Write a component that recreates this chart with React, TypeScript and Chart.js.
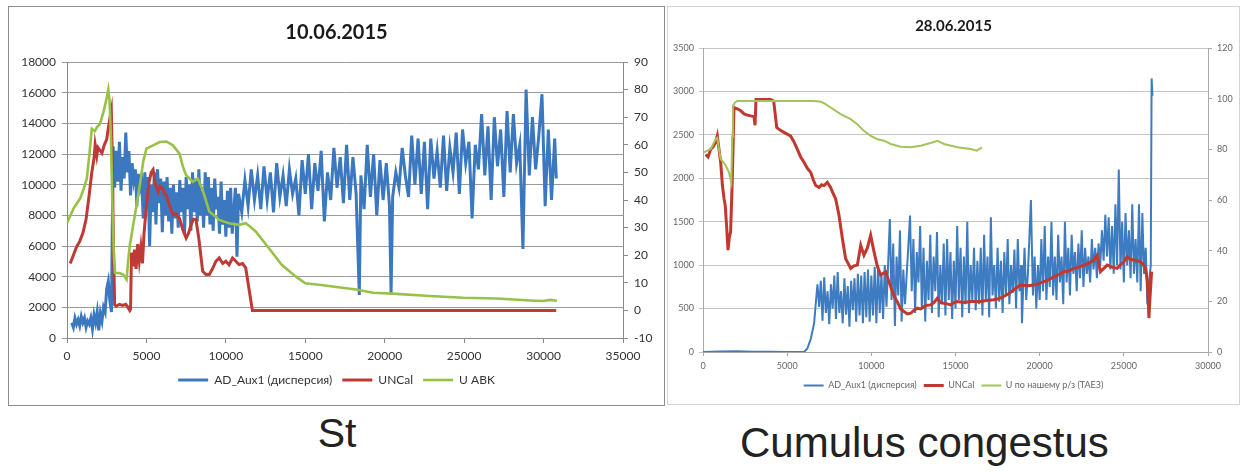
import React, { useEffect, useRef } from "react";
import Chart from "chart.js/auto";

const FONT = "Lato, 'Open Sans', sans-serif";

const chart1Title = "10.06.2015";
const chart2Title = "28.06.2015";
const caption1 = "St";
const caption2 = "Cumulus congestus";
const seriesNames1 = ["AD_Aux1 (дисперсия)", "UNCal", "U ABK"];
const seriesNames2 = ["AD_Aux1 (дисперсия)", "UNCal", "U по нашему р/з (ТАЕЗ)"];

const x1Ticks = [0, 5000, 10000, 15000, 20000, 25000, 30000, 35000];
const yL1Ticks = [0, 2000, 4000, 6000, 8000, 10000, 12000, 14000, 16000, 18000];
const yR1Ticks = [-10, 0, 10, 20, 30, 40, 50, 60, 70, 80, 90];
const x2Ticks = [0, 5000, 10000, 15000, 20000, 25000, 30000];
const yL2Ticks = [0, 500, 1000, 1500, 2000, 2500, 3000, 3500];
const yR2Ticks = [0, 20, 40, 60, 80, 100, 120];

// ---- Chart 1 (10.06.2015) ----
const ad1: [number, number][] = [
  [300,1000],[400,700],[500,1300],[600,900],[700,1200],[800,800],[900,1400],[1000,1000],[1100,1300],[1200,700],
  [1300,1100],[1400,900],[1500,1300],[1600,600],[1700,1500],[1800,1000],[1900,1700],[2000,500],[2100,1600],[2200,1100],
  [2300,2000],[2400,1700],[2500,3200],[2600,3700],[2700,2400],[2800,1700],[2900,12500],[3000,9800],[3100,12200],[3200,10200],
  [3300,12800],[3400,9600],[3500,11800],[3600,10400],[3700,13400],[3800,10800],[3900,12200],[4000,9300],[4100,11400],[4200,10300],
  [4300,11000],[4400,8600],[4500,10700],[4600,9800],[4700,10300],[4800,7800],[4900,10800],[5000,8400],[5100,10500],[5200,6000],
  [5300,10000],[5400,8200],[5500,10800],[5600,7400],[5700,11000],[5800,8800],[5900,10400],[6000,6900],[6100,10200],[6200,8000],
  [6300,10500],[6400,7600],[6500,9800],[6600,6800],[6700,10000],[6800,7800],[6900,9500],[7000,7200],[7100,10300],[7200,8200],
  [7300,9800],[7400,6800],[7500,10500],[7600,8400],[7700,10000],[7800,7000],[7900,10800],[8000,8200],[8100,10400],[8200,7600],
  [8300,11000],[8400,8000],[8500,9600],[8600,7200],[8700,10800],[8800,8000],[8900,10500],[9000,7400],[9100,9800],[9200,7000],
  [9300,10400],[9400,8400],[9500,9200],[9600,6800],[9700,10200],[9800,7400],[9900,9000],[10000,6600],[10100,9600],[10200,7200],
  [10300,9800],[10400,6800],[10600,9800],[10700,5300],[10800,9400],[11000,8200],[11200,10300],[11400,8600],[11600,11000],[11800,9000],
  [12000,10600],[12200,8400],[12400,11200],[12600,9000],[12800,10800],[13000,8200],[13200,11400],[13400,9200],[13600,10600],[13800,8600],
  [14000,11000],[14200,9400],[14400,10400],[14600,8000],[14800,11600],[15000,9400],[15200,12000],[15400,8400],[15600,11400],[15800,9600],
  [16000,12200],[16200,7600],[16400,10800],[16600,9000],[16800,12400],[17000,9800],[17200,11800],[17400,8800],[17600,12600],[17800,9000],
  [18000,11800],[18200,9400],[18400,2800],[18500,10600],[18700,8400],[18900,12600],[19100,9200],[19300,12000],[19500,8000],[19700,11600],
  [19900,9000],[20100,11400],[20300,8600],[20400,2900],[20500,9200],[20700,10800],[20900,9800],[21100,12400],[21300,10600],[21500,9200],
  [21700,13200],[21900,10000],[22100,13000],[22300,9400],[22500,12800],[22700,8400],[22900,13000],[23100,10400],[23300,12200],[23500,9800],
  [23700,13200],[23900,9600],[24100,12400],[24300,10800],[24500,13400],[24700,9400],[24900,13600],[25100,11400],[25300,12800],[25500,7800],
  [25700,12600],[25900,11000],[26100,14600],[26300,10600],[26500,13800],[26700,9000],[26900,14400],[27100,11200],[27300,13600],[27500,9200],
  [27700,14800],[27900,10800],[28100,14600],[28300,11400],[28500,12600],[28700,5800],[28900,16200],[29100,10600],[29300,14400],[29500,11000],
  [29700,13200],[29900,15900],[30100,8600],[30300,13600],[30500,9000],[30700,13000],[30800,10400]
];
const unc1: [number, number][] = [
  [200,17],[400,20],[600,23],[800,25],[1000,28],[1200,33],[1400,42],[1560,50],[1700,55],[1770,60],
  [1875,56],[1950,59],[2080,58],[2200,57],[2350,60],[2500,62],[2600,66],[2710,70],[2790,72.5],[2850,55],
  [2920,25],[3000,2],[3100,1.5],[3300,2.2],[3500,1.8],[3700,2.2],[3850,1],[3950,0],[4000,0.5],[4060,21],
  [4150,16],[4250,22],[4350,15],[4450,24],[4550,18],[4650,23],[4750,17],[4850,28],[5000,38],[5150,46],
  [5300,50],[5420,51],[5550,46],[5730,43],[5850,45],[6040,44],[6150,42],[6250,41.8],[6450,38],[6670,34.6],
  [6850,35],[7080,33.4],[7300,29],[7500,26.2],[7650,28],[7810,31],[7950,33],[8120,32.8],[8300,26],[8540,14.2],
  [8750,13],[8960,13],[9150,15],[9370,17.8],[9580,19],[9800,17],[10000,17.8],[10200,16.5],[10420,19],[10600,18],
  [10830,16.6],[11050,17],[11250,15.4],[11450,8],[11670,0],[30800,0]
];
const uabk1: [number, number][] = [
  [0,31.6],[417,37],[833,40.6],[1050,44],[1250,47.8],[1400,56],[1560,65.8],[1750,65],[1900,66.5],[2080,67.6],
  [2300,72],[2500,77],[2600,80],[2680,76],[2770,62],[2850,40],[2950,20],[3020,13.6],[3300,13.5],[3540,13],
  [3750,11.2],[3850,18],[3960,23.8],[4170,31],[4380,38.2],[4600,46],[4800,54],[5000,58.6],[5420,59.8],[5830,61],
  [6250,61.2],[6670,59.8],[7080,56.8],[7300,52],[7500,49],[7920,46.6],[8230,47.8],[8540,43.6],[8960,35.8],[9580,32.8],
  [10200,31.6],[10830,31],[11250,31.6],[11500,30.5],[11880,28.6],[12300,25.5],[12700,22.6],[13500,16.6],[14370,12.4],[15000,9.8],
  [16000,9.2],[17080,8.4],[18210,7.6],[19260,6.4],[20740,6],[22840,5.2],[24950,4.6],[27050,4.3],[29150,3.6],[30000,3.4],
  [30400,3.8],[30840,3.5]
];

// ---- Chart 2 (28.06.2015) ----
const ad2: [number, number][] = [
  [0,0],[1000,5],[2000,8],[3000,3],[4000,2],[5000,0],[6000,0],[6200,40],[6400,150],[6600,330],
  [6700,560],[6800,780],[6900,520],[7000,820],[7100,360],[7200,860],[7300,450],[7400,700],[7500,320],[7600,780],
  [7700,500],[7800,880],[7900,380],[8000,920],[8100,450],[8200,700],[8300,330],[8400,850],[8500,430],[8600,760],
  [8700,290],[8800,820],[8900,480],[9000,850],[9100,350],[9200,900],[9300,420],[9400,880],[9500,330],[9600,920],
  [9700,400],[9800,950],[9900,350],[10000,880],[10100,420],[10200,980],[10300,330],[10400,1000],[10500,450],[10600,900],
  [10700,380],[10800,1000],[10900,520],[11100,1530],[11200,600],[11300,1250],[11400,300],[11500,1100],[11600,650],[11700,1400],
  [11800,350],[11900,950],[12000,550],[12300,1570],[12400,700],[12500,1300],[12600,450],[12700,1150],[12800,800],[12900,1450],
  [13000,500],[13100,1200],[13200,350],[13300,1050],[13400,600],[13500,1350],[13600,450],[13700,1100],[13800,700],[13900,1380],
  [14000,400],[14100,1000],[14200,550],[14300,1250],[14400,420],[14500,1300],[14600,600],[14700,1150],[14800,380],[14900,1050],
  [15000,500],[15100,1450],[15200,600],[15300,1200],[15400,400],[15500,1100],[15600,550],[15700,1500],[15800,450],[15900,1000],
  [16000,600],[16100,1200],[16200,480],[16300,1050],[16400,550],[16500,1200],[16600,420],[16700,1350],[16800,600],[16900,1100],
  [17000,400],[17100,1550],[17200,650],[17300,1000],[17400,500],[17500,1200],[17600,580],[17700,1050],[17800,450],[17900,1150],
  [18000,650],[18100,1300],[18200,550],[18300,1000],[18400,680],[18500,1180],[18600,500],[18700,1300],[18800,700],[18900,1000],
  [18950,330],[19100,1200],[19200,600],[19300,900],[19480,1750],[19600,650],[19700,1100],[19800,500],[19900,1000],[20000,600],
  [20100,1300],[20200,700],[20300,1450],[20400,600],[20500,1100],[20600,750],[20700,1500],[20800,650],[20900,1100],[21000,600],
  [21100,1350],[21200,800],[21300,1100],[21400,550],[21500,1500],[21600,800],[21700,1200],[21800,650],[21900,1350],[22000,900],
  [22100,1150],[22200,700],[22300,1250],[22400,850],[22500,1400],[22600,750],[22700,1200],[22800,900],[22900,1100],[23000,800],
  [23100,1300],[23200,950],[23300,1200],[23400,850],[23500,1250],[23600,1000],[23700,1400],[23800,1050],[23900,1580],[24000,1100],
  [24100,1550],[24200,950],[24300,1450],[24400,900],[24500,1700],[24600,1000],[24700,2100],[24800,950],[24900,1500],[25000,800],
  [25100,1600],[25200,1000],[25300,1400],[25400,850],[25500,1700],[25600,900],[25700,1300],[25800,800],[25900,1700],[26000,700],
  [26100,1600],[26200,900],[26300,1200],[26400,550],[26500,800],[26600,1000],[26650,3150],[26700,2950]
];
const unc2: [number, number][] = [
  [160,78],[300,77],[460,80],[600,81],[750,82.7],[850,85.3],[950,80],[1050,74.9],[1150,66],[1250,60.5],
  [1320,57.9],[1400,50],[1485,40.2],[1560,45],[1640,47.4],[1740,68.3],[1840,96.5],[2040,96],[2240,95.2],[2440,94],
  [2630,93.5],[2830,93.2],[3030,92.9],[3090,89.5],[3150,99.7],[3500,99.7],[4020,99.7],[4200,99],[4380,88.6],[4600,87.5],
  [4810,86.7],[5000,86],[5200,85.3],[5400,83],[5600,80.1],[5800,77],[6000,74.9],[6200,72.5],[6400,70.9],[6550,68],
  [6700,65.7],[6890,65],[7050,66],[7190,65.7],[7390,67],[7580,65],[7700,63],[7880,60.5],[8080,53.9],[8280,44.8],
  [8470,36.9],[8620,35],[8770,33],[8970,34],[9170,34.3],[9370,42.1],[9560,38.2],[9760,41],[9960,46.1],[10160,39.5],
  [10350,34],[10550,30.4],[10850,31.7],[11150,25.8],[11350,22],[11540,19.9],[11740,17],[11940,16],[12140,15],[12340,15.3],
  [12540,16.5],[12730,17.3],[12930,17],[13130,17.9],[13320,18.5],[13520,18.6],[13720,19.5],[13920,21.2],[14120,19.5],[14320,19.2],
  [14510,19],[14710,18.6],[14910,19.5],[15110,19.9],[15500,19.5],[15900,19.9],[16470,19.9],[16870,20.3],[17260,20.6],[17560,21],
  [17860,21.9],[18150,23],[18450,24.5],[18850,26.4],[19250,26.2],[19640,26.4],[19940,27],[20240,27.8],[20530,28.5],[20830,29.7],
  [21130,30.5],[21430,31.7],[21730,32],[22020,33],[22320,33.5],[22620,34.3],[22920,35],[23210,36.3],[23410,38.2],[23610,31.7],
  [23810,33],[24010,34.3],[24300,33.5],[24600,33],[24800,34.5],[25000,35.6],[25200,37.6],[25400,36.5],[25600,36.3],[25800,36],
  [25990,35.6],[26150,34.5],[26290,33],[26400,28],[26490,13.4],[26560,22],[26650,31.7]
];
const u2: [number, number][] = [
  [60,78.8],[250,79.5],[460,80.1],[600,82],[750,84],[850,84.5],[950,80],[1050,76.2],[1200,75],[1350,73.6],
  [1540,70.9],[1680,67],[1740,85],[1780,97.1],[1900,98.5],[2040,99.1],[3230,99.1],[5200,99.1],[6590,99.1],[7000,98.8],
  [7190,98.2],[7580,96.5],[8180,93.9],[8770,91.9],[9170,89.9],[9560,87.3],[9960,85.3],[10360,84],[10750,83.4],[11150,82.1],
  [11740,81],[12340,80.8],[12930,81.4],[13520,82.5],[13920,83.4],[14320,82.1],[15110,80.8],[15900,80.1],[16270,79.5],[16570,80.8]
];

const toXY = (arr: [number, number][]) => arr.map(([x, y]) => ({ x, y }));
const fixedTicks = (vals: number[]) => (scale: any) => {
  scale.ticks = vals.map((v) => ({ value: v }));
};

type PanelCfg = {
  title: string;
  titleSize: number;
  titlePad: { top: number; bottom: number };
  names: string[];
  series: [number, number][][];
  colors: string[];
  widths: number[];
  xTicks: number[];
  yLTicks: number[];
  yRTicks: number[];
  tickFont: number;
  tickColor: string;
  gridColor: string;
  axisColor: string;
  leftW: number;
  rightW: number;
  xH: number;
  legendFont: number;
  legendPad: number;
  legendLine: number;
  bottomPad: number;
  tickLen: number;
  tickPad: number;
};

function makeConfig(c: PanelCfg): any {
  const datasets = c.series.map((s, i) => ({
    label: c.names[i],
    data: toXY(s),
    borderColor: c.colors[i],
    backgroundColor: c.colors[i],
    borderWidth: c.widths[i],
    pointRadius: 0,
    fill: false,
    tension: 0,
    yAxisID: i === 0 ? "y" : "y1",
    order: i === 0 ? 3 : i === 1 ? 2 : 1,
  }));
  const tickBase = { font: { family: FONT, size: c.tickFont }, color: c.tickColor, padding: c.tickPad };
  return {
    type: "line",
    data: { datasets },
    options: {
      animation: false,
      responsive: false,
      maintainAspectRatio: false,
      layout: { padding: { top: 0, bottom: c.bottomPad, left: 0, right: 0 } },
      plugins: {
        title: {
          display: true,
          text: c.title,
          font: { family: FONT, size: c.titleSize, weight: "bold" },
          color: "#1a1a1a",
          padding: c.titlePad,
        },
        legend: {
          position: "bottom",
          labels: {
            usePointStyle: true,
            pointStyle: "line",
            pointStyleWidth: c.legendLine,
            font: { family: FONT, size: c.legendFont },
            color: c.tickColor,
            padding: c.legendPad,
            sort: (a: any, b: any) => a.datasetIndex - b.datasetIndex,
          },
        },
        tooltip: { enabled: false },
      },
      scales: {
        x: {
          type: "linear",
          min: c.xTicks[0],
          max: c.xTicks[c.xTicks.length - 1],
          afterBuildTicks: fixedTicks(c.xTicks),
          afterFit: (s: any) => { s.height = c.xH; },
          ticks: { ...tickBase, callback: (v: any) => String(v), maxRotation: 0, autoSkip: false },
          grid: { drawOnChartArea: false, drawTicks: true, tickLength: c.tickLen, color: c.axisColor },
          border: { display: true, color: c.axisColor },
        },
        y: {
          type: "linear",
          position: "left",
          min: c.yLTicks[0],
          max: c.yLTicks[c.yLTicks.length - 1],
          afterBuildTicks: fixedTicks(c.yLTicks),
          afterFit: (s: any) => { s.width = c.leftW; },
          ticks: { ...tickBase, callback: (v: any) => String(v) },
          grid: { color: c.gridColor, drawTicks: true, tickLength: c.tickLen },
          border: { display: true, color: c.axisColor },
        },
        y1: {
          type: "linear",
          position: "right",
          min: c.yRTicks[0],
          max: c.yRTicks[c.yRTicks.length - 1],
          afterBuildTicks: fixedTicks(c.yRTicks),
          afterFit: (s: any) => { s.width = c.rightW; },
          ticks: { ...tickBase, callback: (v: any) => String(v) },
          grid: { drawOnChartArea: false, drawTicks: true, tickLength: c.tickLen, color: c.axisColor },
          border: { display: true, color: c.axisColor },
        },
      },
    },
  };
}

const panel1: PanelCfg = {
  title: chart1Title,
  titleSize: 20,
  titlePad: { top: 14, bottom: 17 },
  names: seriesNames1,
  series: [ad1, unc1, uabk1],
  colors: ["#3B78BF", "#BE3A36", "#98C147"],
  widths: [3, 3, 2.6],
  xTicks: x1Ticks,
  yLTicks: yL1Ticks,
  yRTicks: yR1Ticks,
  tickFont: 12,
  tickColor: "#333333",
  gridColor: "#9a9a9a",
  axisColor: "#8a8a8a",
  leftW: 58,
  rightW: 41,
  xH: 26,
  legendFont: 12,
  legendPad: 10,
  legendLine: 30,
  bottomPad: 9,
  tickLen: 5,
  tickPad: 6,
};

const panel2: PanelCfg = {
  title: chart2Title,
  titleSize: 15,
  titlePad: { top: 10, bottom: 13 },
  names: seriesNames2,
  series: [ad2, unc2, u2],
  colors: ["#3E7CC2", "#C0392F", "#A3C45A"],
  widths: [2, 3, 2],
  xTicks: x2Ticks,
  yLTicks: yL2Ticks,
  yRTicks: yR2Ticks,
  tickFont: 9,
  tickColor: "#666666",
  gridColor: "#c4c4c4",
  axisColor: "#aaaaaa",
  leftW: 35,
  rightW: 31,
  xH: 22,
  legendFont: 9,
  legendPad: 7,
  legendLine: 20,
  bottomPad: 4,
  tickLen: 4,
  tickPad: 5,
};

function ChartCanvas({ cfg, width, height }: { cfg: PanelCfg; width: number; height: number }) {
  const ref = useRef<HTMLCanvasElement | null>(null);
  useEffect(() => {
    if (!ref.current) return;
    const chart = new Chart(ref.current, makeConfig(cfg));
    return () => chart.destroy();
  }, [cfg]);
  return <canvas ref={ref} width={width} height={height} style={{ width, height, display: "block" }} />;
}

export default function App() {
  return (
    <div style={{ position: "fixed", left: 0, top: 0, width: 1242, height: 472, background: "#fff", overflow: "hidden" }}>
      <div style={{ position: "absolute", left: 8, top: 6, width: 655, height: 398, border: "1px solid #8c8c8c" }}>
        <ChartCanvas cfg={panel1} width={655} height={398} />
      </div>
      <div style={{ position: "absolute", left: 667, top: 6, width: 571, height: 397, border: "1px solid #d4d4d4" }}>
        <ChartCanvas cfg={panel2} width={571} height={397} />
      </div>
      <div style={{ position: "absolute", left: 237, width: 200, top: 413, textAlign: "center", font: "41px 'Liberation Sans', Arial, sans-serif", lineHeight: "41px", color: "#222" }}>
        {caption1}
      </div>
      <div style={{ position: "absolute", left: 740, top: 422, font: "42px 'Liberation Sans', Arial, sans-serif", lineHeight: "41px", color: "#222", whiteSpace: "nowrap" }}>
        {caption2}
      </div>
    </div>
  );
}
